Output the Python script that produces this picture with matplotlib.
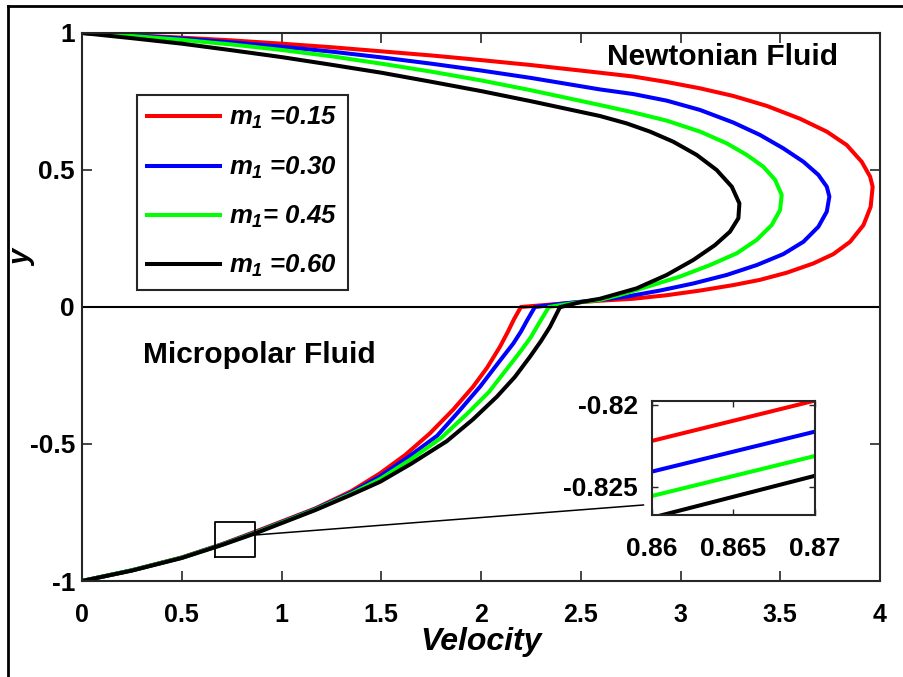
import numpy as np
import matplotlib
matplotlib.use("Agg")
import matplotlib.pyplot as plt
from matplotlib.lines import Line2D

plt.rcParams['font.family'] = ['Liberation Sans', 'DejaVu Sans']
plt.rcParams['mathtext.fontset'] = 'custom'
plt.rcParams['mathtext.it'] = 'Liberation Sans:bold:italic'
plt.rcParams['mathtext.rm'] = 'Liberation Sans:bold:italic'

# valeurs (vitesse u, hauteur y)
labels = [r'$m_1$ =0.15', r'$m_1$ =0.30', r'$m_1$= 0.45', r'$m_1$ =0.60']
colors = ['#ff0000', '#0000ff', '#00ff00', '#000000']

# fluide micropolaire (y de -1 a 0)
low_u = [
    [0, 0.25, 0.5, 0.7, 0.865, 1.17, 1.35, 1.494, 1.62, 1.744, 1.86, 1.96, 2.03, 2.095, 2.135, 2.165, 2.2],
    [0, 0.25, 0.5, 0.7, 0.865, 1.17, 1.35, 1.494, 1.64, 1.78, 1.89, 1.995, 2.08, 2.162, 2.2, 2.23, 2.27],
    [0, 0.25, 0.5, 0.7, 0.865, 1.17, 1.35, 1.494, 1.65, 1.80, 1.93, 2.04, 2.12, 2.2, 2.25, 2.29, 2.34],
    [0, 0.25, 0.5, 0.7, 0.869, 1.17, 1.35, 1.494, 1.65, 1.828, 1.96, 2.08, 2.17, 2.246, 2.30, 2.346, 2.396],
]
low_y = [
    [-1, -0.961, -0.914, -0.866, -0.821, -0.735, -0.672, -0.607, -0.54, -0.461, -0.375, -0.291, -0.222, -0.145, -0.09, -0.045, 0],
    [-1, -0.961, -0.915, -0.867, -0.8235, -0.737, -0.677, -0.618, -0.545, -0.47, -0.38, -0.291, -0.21, -0.133, -0.09, -0.05, 0],
    [-1, -0.961, -0.915, -0.868, -0.825, -0.739, -0.681, -0.628, -0.555, -0.478, -0.39, -0.31, -0.235, -0.16, -0.11, -0.06, 0],
    [-1, -0.962, -0.916, -0.869, -0.826, -0.741, -0.685, -0.638, -0.572, -0.49, -0.41, -0.327, -0.255, -0.181, -0.125, -0.072, 0],
]

# fluide newtonien (y de 0 a 1)
up_u = [
    [2.2, 2.4, 2.596, 2.764, 2.931, 3.098, 3.265, 3.398, 3.532, 3.666, 3.766, 3.850, 3.917, 3.953, 3.963,
     3.950, 3.908, 3.833, 3.733, 3.599, 3.432, 3.265, 3.098, 2.931, 2.764, 2.596,
     2.25, 2.0, 1.75, 1.5, 1.25, 1.0, 0.75, 0.5, 0.25, 0],
    [2.27, 2.43, 2.596, 2.730, 2.897, 3.065, 3.232, 3.382, 3.515, 3.616, 3.691, 3.733, 3.746, 3.733, 3.691,
     3.616, 3.515, 3.398, 3.265, 3.098, 2.931, 2.764, 2.596,
     2.25, 2.0, 1.75, 1.5, 1.25, 1.0, 0.75, 0.5, 0.25, 0],
    [2.34, 2.47, 2.596, 2.697, 2.847, 2.997, 3.148, 3.282, 3.382, 3.457, 3.499, 3.507, 3.474, 3.415, 3.332,
     3.232, 3.098, 2.931, 2.764, 2.596,
     2.25, 2.0, 1.75, 1.5, 1.25, 1.0, 0.75, 0.5, 0.25, 0],
    [2.4, 2.5, 2.596, 2.780, 2.931, 3.065, 3.173, 3.248, 3.290, 3.295, 3.257, 3.181, 3.081, 2.964, 2.847,
     2.730, 2.596,
     2.25, 2.0, 1.75, 1.5, 1.25, 1.0, 0.75, 0.5, 0.25, 0],
]
up_y = [
    [0, 0.012, 0.023, 0.030, 0.043, 0.060, 0.080, 0.099, 0.125, 0.159, 0.193, 0.238, 0.299, 0.366, 0.439,
     0.476, 0.530, 0.591, 0.640, 0.687, 0.734, 0.770, 0.798, 0.821, 0.841, 0.855,
     0.883, 0.901, 0.918, 0.933, 0.948, 0.961, 0.973, 0.983, 0.992, 1],
    [0, 0.014, 0.026, 0.038, 0.060, 0.086, 0.117, 0.153, 0.193, 0.238, 0.293, 0.348, 0.403, 0.439, 0.482,
     0.530, 0.579, 0.628, 0.673, 0.719, 0.753, 0.777, 0.794,
     0.836, 0.863, 0.888, 0.911, 0.932, 0.950, 0.966, 0.980, 0.991, 1],
    [0, 0.015, 0.026, 0.044, 0.077, 0.111, 0.153, 0.196, 0.245, 0.299, 0.354, 0.409, 0.464, 0.512, 0.555,
     0.597, 0.640, 0.680, 0.710, 0.737,
     0.791, 0.827, 0.859, 0.888, 0.915, 0.938, 0.958, 0.975, 0.989, 1],
    [0, 0.018, 0.03, 0.068, 0.117, 0.172, 0.226, 0.275, 0.324, 0.378, 0.439, 0.500, 0.555, 0.603, 0.640,
     0.670, 0.697,
     0.751, 0.788, 0.822, 0.855, 0.884, 0.912, 0.937, 0.961, 0.981, 1],
]

# zoom
inset_u = [0.86, 0.87]
inset_y = [
    [-0.8222, -0.81973],
    [-0.82408, -0.82163],
    [-0.82557, -0.82312],
    [-0.82690, -0.82433],
]

axcol = '#262626'

fig = plt.figure(figsize=(9.04, 6.77), dpi=100)
ax = fig.add_axes([0.0907, 0.1418, 0.8828, 0.8095])

for i in range(4):
    u = low_u[i] + up_u[i]
    y = low_y[i] + up_y[i]
    ax.plot(u, y, color=colors[i], lw=2.9, label=labels[i], solid_joinstyle='round')

ax.plot([0, 4], [0, 0], color='k', lw=1.5)

ax.set_xlim(0, 4)
ax.set_ylim(-1, 1)
ax.set_xticks(np.arange(0, 4.01, 0.5))
ax.set_xticklabels(['0', '0.5', '1', '1.5', '2', '2.5', '3', '3.5', '4'])
ax.set_yticks([-1, -0.5, 0, 0.5, 1])
ax.set_yticklabels(['-1', '-0.5', '0', '0.5', '1'])
ax.tick_params(direction='in', length=7, width=1.2, color=axcol, top=True, right=True)
ax.tick_params(axis='x', labelsize=18, pad=16)
ax.tick_params(axis='y', labelsize=19, pad=5)
for lab in ax.get_xticklabels() + ax.get_yticklabels():
    lab.set_fontweight('bold')
for lab in ax.get_xticklabels():
    lab.set_fontstretch('condensed')
for s in ax.spines.values():
    s.set_color(axcol)
    s.set_linewidth(1.5)

ax.set_xlabel('Velocity', fontsize=23, fontweight='bold', style='italic', labelpad=0)
ax.set_ylabel('y', fontsize=21, fontweight='bold', style='italic')
ax.yaxis.set_label_coords(-0.057, 0.59)

ax.text(3.21, 0.912, 'Newtonian Fluid', fontsize=21.5, fontweight='bold', ha='center', va='center')
ax.text(0.887, -0.175, 'Micropolar Fluid', fontsize=21.5, fontweight='bold', ha='center', va='center')

leg = ax.legend(loc='upper left', bbox_to_anchor=(0.0689, 0.887), borderaxespad=0,
                handlelength=2.85, labelspacing=0.9, handletextpad=0.35,
                borderpad=0.4, fancybox=False, framealpha=1, edgecolor=axcol,
                prop={'weight': 'bold', 'style': 'italic', 'size': 18.5})
leg.get_frame().set_linewidth(1.5)

# rectangle de zoom et trait de liaison
ax.plot([0.668, 0.869, 0.869, 0.668, 0.668], [-0.911, -0.911, -0.784, -0.784, -0.911], color='k', lw=1.3)
ax.plot([0.869, 2.814], [-0.832, -0.7226], color='k', lw=1.1)

ins = fig.add_axes([0.7209, 0.2393, 0.1807, 0.1688])
for i in range(4):
    ins.plot(inset_u, inset_y[i], color=colors[i], lw=2.9)
ins.set_xlim(0.86, 0.87)
ins.set_ylim(-0.82673, -0.81974)
ins.set_xticks([0.86, 0.865, 0.87])
ins.set_xticklabels(['0.86', '0.865', '0.87'])
ins.set_yticks([-0.825, -0.82])
ins.set_yticklabels(['-0.825', '-0.82'])
ins.tick_params(direction='in', length=4, width=1, color=axcol, top=True, right=True, labelsize=19)
ins.tick_params(axis='x', pad=16)
ins.tick_params(axis='y', pad=10)
for lab in ins.get_xticklabels() + ins.get_yticklabels():
    lab.set_fontweight('bold')
for s in ins.spines.values():
    s.set_color(axcol)
    s.set_linewidth(1.5)

# cadre exterieur (haut et gauche)
fig.add_artist(Line2D([0.0085, 1.0], [0.9905, 0.9905], transform=fig.transFigure, color='k', lw=2))
fig.add_artist(Line2D([0.0085, 0.0085], [0.0, 0.9905], transform=fig.transFigure, color='k', lw=2))

fig.savefig('out.png', dpi=100)
